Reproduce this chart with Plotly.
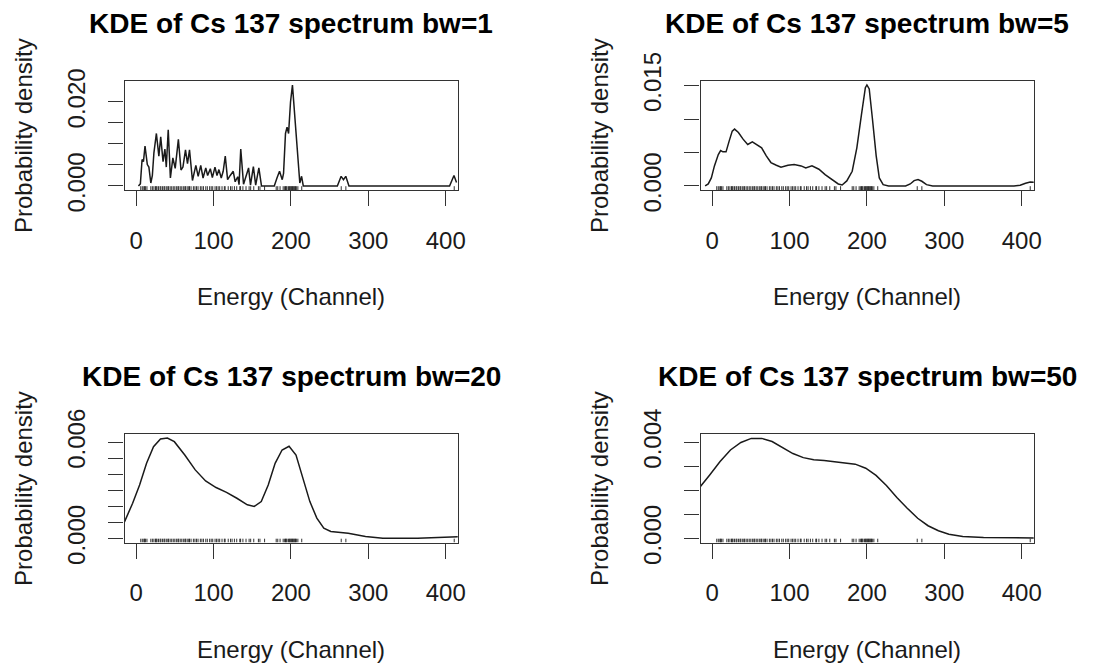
import plotly.graph_objects as go

W, H = 1094, 664

# ---------------- data ----------------
titles = ["KDE of Cs 137 spectrum bw=1", "KDE of Cs 137 spectrum bw=5",
          "KDE of Cs 137 spectrum bw=20", "KDE of Cs 137 spectrum bw=50"]
x_label = "Energy (Channel)"
y_label = "Probability density"
x_tick_vals = [0, 100, 200, 300, 400]
x_tick_text = ["0", "100", "200", "300", "400"]

bw1_x = [3, 5.5, 7.7, 9.5, 11.5, 14.5, 16.5, 19, 21, 23, 26.2, 29.4, 31.8, 34.8, 37.2, 39,
         41.5, 44.3, 47.5, 50.5, 54.6, 58, 60.5, 63.8, 66.4, 69, 72.8, 77.2, 80.2, 83.5, 86.5,
         90, 92.4, 95.9, 98.5, 101.9, 104.5, 107, 110, 112.5, 115.2, 118.2, 121.6, 125.5, 128,
         131.3, 133, 135.2, 138.8, 145.3, 147.8, 151.5, 154.5, 158.6, 162, 178.5, 182, 185.3,
         188.8, 190.5, 193, 195, 197, 199.5, 202, 205, 208, 210, 211.5, 213.8, 216, 260, 264.9,
         267.9, 270.9, 275, 405, 410.7, 414]
bw1_y = [0, 0.0005, 0.0063, 0.0058, 0.0095, 0.0051, 0.0045, 0.0007, 0.0025, 0.0079, 0.0125,
         0.0071, 0.0117, 0.0058, 0.0088, 0.0045, 0.0134, 0.0019, 0.0067, 0.0042, 0.0111, 0.0038,
         0.0045, 0.0086, 0.0053, 0.0086, 0.0013, 0.0049, 0.0023, 0.0049, 0.0019, 0.0043, 0.0025,
         0.0041, 0.0020, 0.0045, 0.0025, 0.0039, 0.0019, 0.0035, 0.0071, 0.0015, 0.0025, 0.0035,
         0.0010, 0.0022, 0.0003, 0.0088, 0.0004, 0.0043, 0.0002, 0.0046, 0.0002, 0.0043, 0, 0,
         0.0019, 0.0035, 0.0015, 0.0030, 0.0125, 0.0140, 0.0125, 0.0200, 0.0240, 0.0170, 0.0095,
         0.0035, 0.0007, 0.0023, 0, 0, 0.0023, 0.0015, 0.0023, 0, 0, 0.0025, 0.0008]

bw5_x = [-9, -5, -1, 3, 8, 11, 14, 18, 22, 26, 29, 34, 40, 46, 52, 57, 64, 70, 76, 83, 89, 98,
         106, 115, 121, 129, 138, 146, 155, 163, 168, 174, 181, 187, 193, 198, 200, 203, 207,
         212, 216, 221, 228, 250, 256, 261, 266, 271, 277, 285, 390, 398, 405, 411, 420]
bw5_y = [0, 0.0003, 0.0012, 0.0030, 0.0047, 0.0053, 0.0051, 0.0051, 0.0067, 0.0082, 0.0085,
         0.0080, 0.0070, 0.0062, 0.0066, 0.0062, 0.0057, 0.0045, 0.0035, 0.0031, 0.0028, 0.0031,
         0.0032, 0.0030, 0.0027, 0.0030, 0.0025, 0.0017, 0.0010, 0.0003, 0.00015, 0.00075,
         0.0022, 0.0057, 0.0107, 0.0147, 0.0151, 0.0145, 0.0102, 0.0045, 0.0012, 0.0002, 0, 0,
         0.0003, 0.0008, 0.00095, 0.0007, 0.0002, 0, 0, 0.0001, 0.0004, 0.0006, 0.0005]

bw20_x = [-20, -14.8, -4.5, 4.5, 13.5, 22.5, 31.5, 40.4, 49.4, 62.9, 76.4, 89.8, 103.3, 116.8,
          130.2, 143.7, 152.6, 161.7, 170.7, 179.6, 188.6, 197.6, 206.6, 215.6, 224.5, 233.5,
          242.5, 251.5, 274, 296.4, 318.8, 363.7, 386.2, 420]
bw20_y = [0.0008, 0.00106, 0.0022, 0.00334, 0.00469, 0.00573, 0.00621, 0.00627, 0.00604,
          0.00521, 0.00428, 0.00359, 0.00318, 0.00288, 0.00251, 0.0021, 0.0020, 0.0023,
          0.00334, 0.00469, 0.00552, 0.00575, 0.00521, 0.00376, 0.0023, 0.00127, 0.00064,
          0.00044, 0.00033, 0.00012, 0.00002, 0.00002, 0.00006, 0.00011]

bw50_x = [-20, -16.1, -3.1, 10.3, 23.7, 37.2, 50.6, 64.1, 77.5, 90.9, 104.4, 117.8, 131.3,
          144.7, 158.1, 171.6, 184.9, 198.5, 211.8, 225.2, 238.7, 252.1, 265.6, 279, 292.4,
          305.9, 323.8, 350.7, 377.6, 420]
bw50_y = [0.0020, 0.00212, 0.00264, 0.0032, 0.00368, 0.00399, 0.00416, 0.00416, 0.00403,
          0.00378, 0.00353, 0.00336, 0.00327, 0.00324, 0.0032, 0.00316, 0.00309, 0.00292,
          0.00262, 0.0022, 0.0017, 0.00126, 0.00084, 0.00053, 0.00032, 0.00018, 0.00008,
          0.00004, 0.00003, 0.00002]

rug_energy = [6, 8, 10, 11, 12, 14, 19, 21, 23, 25, 26, 27, 29, 31, 32, 34, 36, 37, 39, 41,
              42, 44, 46, 48, 50, 52, 54, 55, 57, 59, 61, 63, 64, 66, 68, 69, 71, 74, 76, 78,
              80, 83, 85, 87, 90, 92, 95, 97, 99, 102, 104, 106, 108, 111, 114, 115, 119, 122,
              124, 127, 130, 134, 135, 138, 142, 146, 148, 152, 158, 160, 166, 181, 183, 186,
              190, 192, 193, 194, 195, 197, 198, 199, 200, 201, 202, 203, 204, 205, 206, 207,
              209, 214, 265, 271, 411]

y_tick_vals = [[0, 0.005, 0.010, 0.015, 0.020],
               [0, 0.005, 0.010, 0.015],
               [0, 0.001, 0.002, 0.003, 0.004, 0.005, 0.006],
               [0, 0.001, 0.002, 0.003, 0.004]]
y_tick_text = [["0.000", "", "", "", "0.020"],
               ["0.000", "", "", "0.015"],
               ["0.000", "", "", "", "", "", "0.006"],
               ["0.000", "", "", "", "0.004"]]
y_ranges = [[-0.00096, 0.02499], [-0.000604, 0.015694], [-0.00025, 0.0065], [-0.000167, 0.00433]]
x_range = [-15, 415.5]

curves = [(bw1_x, bw1_y), (bw5_x, bw5_y), (bw20_x, bw20_y), (bw50_x, bw50_y)]

# ---------------- layout geometry (pixels) ----------------
boxes = [(124.5, 457.7, 81, 190), (700.5, 1033.7, 81, 190),
         (124.5, 457.7, 434.3, 542.5), (700.5, 1033.7, 434.3, 542.5)]

FONT = "Liberation Sans, Arial, Helvetica, sans-serif"
INK = "#1a1a1a"

fig = go.Figure()
layout = dict(width=W, height=H, margin=dict(l=0, r=0, t=0, b=0, pad=0, autoexpand=False),
              autosize=False, template="none",
              paper_bgcolor="white", plot_bgcolor="white", showlegend=False,
              font=dict(family=FONT, color=INK, size=24))
annotations = []

for i in range(4):
    n = "" if i == 0 else str(i + 1)
    x0, x1, yt, yb = boxes[i]
    cx, cy = curves[i]
    fig.add_trace(go.Scatter(x=cx, y=cy, mode="lines", xaxis="x" + n, yaxis="y" + n,
                             line=dict(color=INK, width=1.5), hoverinfo="skip"))
    ylo, yhi = y_ranges[i]
    rx, ry = [], []
    for v in rug_energy:
        rx += [v, v, None]
        ry += [ylo, ylo + 0.035 * (yhi - ylo), None]
    fig.add_trace(go.Scatter(x=rx, y=ry, mode="lines", xaxis="x" + n, yaxis="y" + n,
                             line=dict(color=INK, width=0.9), hoverinfo="skip"))
    common = dict(showgrid=False, zeroline=False, showline=True, mirror=True,
                  automargin=False,
                  linecolor="#333333", linewidth=1.2, ticks="outside", ticklen=15,
                  tickwidth=1.2, tickcolor="#333333",
                  tickfont=dict(family=FONT, size=24, color=INK))
    layout["xaxis" + n] = dict(common, domain=[x0 / W, x1 / W], range=x_range,
                               anchor="y" + n, tickmode="array", tickvals=x_tick_vals,
                               ticktext=x_tick_text, ticklabelstandoff=14)
    layout["yaxis" + n] = dict(common, domain=[1 - yb / H, 1 - yt / H], range=y_ranges[i],
                               anchor="x" + n, tickmode="array", tickvals=y_tick_vals[i],
                               ticktext=y_tick_text[i], tickangle=-90, ticklabelstandoff=14)
    xc = (x0 + x1) / 2
    annotations.append(dict(text="<b>" + titles[i] + "</b>", x=xc / W, y=1 - (yt - 57.5) / H,
                            xref="paper", yref="paper", xanchor="center", yanchor="middle",
                            showarrow=False, font=dict(family=FONT, size=28, color="black")))
    annotations.append(dict(text=x_label, x=xc / W, y=1 - (yb + 106.5) / H,
                            xref="paper", yref="paper", xanchor="center", yanchor="middle",
                            showarrow=False, font=dict(family=FONT, size=24, color=INK)))
    annotations.append(dict(text=y_label, x=(x0 - 101) / W, y=1 - ((yt + yb) / 2) / H,
                            xref="paper", yref="paper", xanchor="center", yanchor="middle",
                            textangle=-90, showarrow=False,
                            font=dict(family=FONT, size=24, color=INK)))

layout["annotations"] = annotations
fig.update_layout(**layout)
fig.write_html("out.html")
